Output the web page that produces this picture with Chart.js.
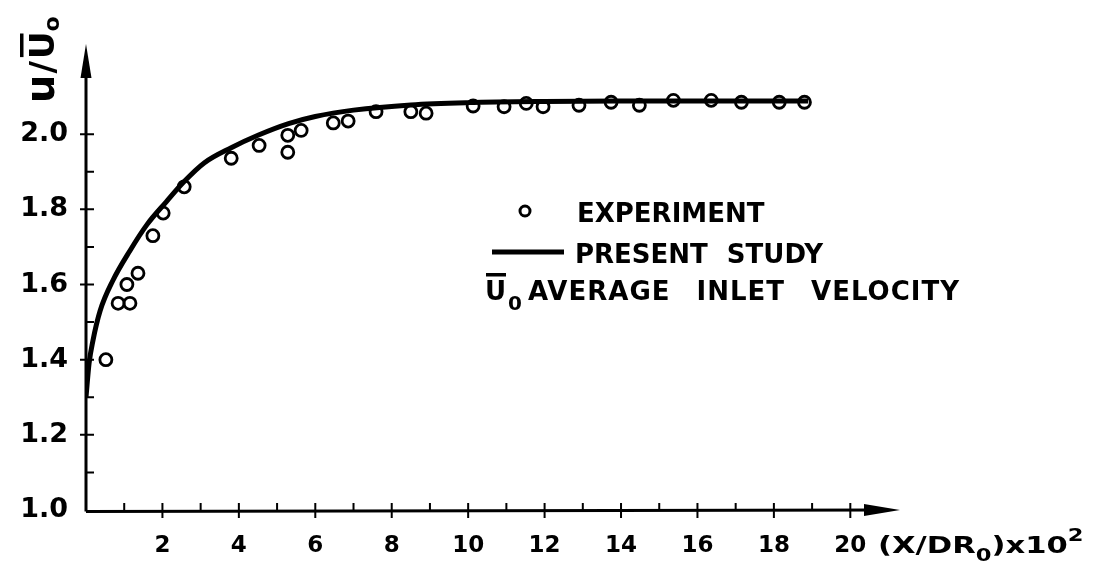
<!DOCTYPE html>
<html>
<head>
<meta charset="utf-8">
<script src="https://cdn.jsdelivr.net/npm/chart.js@4.4.0/dist/chart.umd.min.js"></script>
<style>
  html, body { margin: 0; padding: 0; background: #fff; }
</style>
</head>
<body>
<canvas id="chart" width="1104" height="567"></canvas>
<script>
// experiment, x = (X/DR0)*10^2, y = u/U0
const expX = [0.52, 0.84, 1.15, 1.07, 1.36, 1.75, 2.02, 2.57, 3.8, 4.53, 5.28, 5.28, 5.63, 6.47, 6.86, 7.59, 8.5, 8.9,
  10.13, 10.94, 11.52, 11.96, 12.9, 13.74, 14.48, 15.37, 16.36, 17.15, 18.14, 18.8];
const expY = [1.40, 1.55, 1.55, 1.60, 1.63, 1.73, 1.79, 1.86, 1.936, 1.97, 1.952, 1.997, 2.01, 2.03, 2.035, 2.06, 2.06, 2.056,
  2.075, 2.073, 2.082, 2.073, 2.077, 2.085, 2.077, 2.09, 2.09, 2.085, 2.085, 2.085];

// present study curve
const studyX = [0, 0.08, 0.18, 0.37, 0.7, 1.15, 1.6, 2.1, 2.55, 3.1, 3.8, 4.5, 5.3, 6.0, 7.0, 8.5, 10, 12, 14, 16, 18.9];
const studyY = [1.30, 1.39, 1.45, 1.53, 1.61, 1.69, 1.76, 1.82, 1.872, 1.924, 1.964, 1.997, 2.028, 2.047, 2.064, 2.078, 2.084, 2.087, 2.088, 2.088, 2.088];

// ticks
const xTicks = [0, 1, 2, 3, 4, 5, 6, 7, 8, 9, 10, 11, 12, 13, 14, 15, 16, 17, 18, 19, 20];
const xTickLabels = ['', '', '2', '', '4', '', '6', '', '8', '', '10', '', '12', '', '14', '', '16', '', '18', '', '20'];
const yTicks = [1.0, 1.1, 1.2, 1.3, 1.4, 1.5, 1.6, 1.7, 1.8, 1.9, 2.0];
const yTickLabels = ['1.0', '', '1.2', '', '1.4', '', '1.6', '', '1.8', '', '2.0'];

const FONT = '"DejaVu Sans", "Liberation Sans", sans-serif';

const axisDecor = {
  id: 'axisDecor',
  beforeDatasetsDraw(chart) {
    const { ctx, scales: { x, y } } = chart;
    const x0 = x.getPixelForValue(0), y0 = y.getPixelForValue(1.0);
    const xEnd = x.getPixelForValue(x.max), yEnd = y.getPixelForValue(y.max);
    ctx.save();
    ctx.strokeStyle = '#000';
    ctx.fillStyle = '#000';
    ctx.lineWidth = 3;
    ctx.beginPath();
    ctx.moveTo(x0, y0 + 1.5); ctx.lineTo(xEnd - 20, y0);
    ctx.moveTo(x0, y0 + 1.5); ctx.lineTo(x0, yEnd + 20);
    ctx.stroke();

    // arrow heads
    ctx.beginPath();
    ctx.moveTo(xEnd, y0);
    ctx.lineTo(xEnd - 36, y0 - 6);
    ctx.lineTo(xEnd - 36, y0 + 6);
    ctx.closePath();
    ctx.fill();
    ctx.beginPath();
    ctx.moveTo(x0, yEnd);
    ctx.lineTo(x0 - 5.5, yEnd + 34);
    ctx.lineTo(x0 + 5.5, yEnd + 34);
    ctx.closePath();
    ctx.fill();

    // tick marks
    ctx.lineWidth = 2;
    ctx.beginPath();
    xTicks.forEach((v, i) => {
      if (v === 0) return;
      const px = x.getPixelForValue(v);
      if (i % 2 === 0) { ctx.moveTo(px, y0 - 7); ctx.lineTo(px, y0 + 8); }
      else { ctx.moveTo(px, y0 - 7); ctx.lineTo(px, y0); }
    });
    yTicks.forEach((v, i) => {
      if (i === 0) return;
      const py = y.getPixelForValue(v);
      if (i % 2 === 0) { ctx.moveTo(x0 - 6, py); ctx.lineTo(x0 + 8, py); }
      else { ctx.moveTo(x0, py); ctx.lineTo(x0 + 8, py); }
    });
    ctx.stroke();
    ctx.restore();
  },
  afterDraw(chart) {
    const { ctx } = chart;
    ctx.save();
    ctx.fillStyle = '#000';
    ctx.strokeStyle = '#000';
    ctx.textBaseline = 'alphabetic';
    ctx.textAlign = 'left';

    // y axis title u/U0 (rotated)
    ctx.save();
    ctx.translate(54, 103);
    ctx.rotate(-Math.PI / 2);
    let cx = 0;
    ctx.font = 'bold 40px ' + FONT;
    ctx.fillText('u', cx, 0);
    cx += ctx.measureText('u').width + 1;
    ctx.font = 'bold 34px ' + FONT;
    ctx.fillText('/', cx, 0);
    cx += ctx.measureText('/').width + 2;
    ctx.fillText('U', cx, 0);
    const uw = ctx.measureText('U').width;
    ctx.fillRect(cx + 2, -34, uw - 4, 3.5);
    cx += uw;
    ctx.font = 'bold 22px ' + FONT;
    ctx.fillText('o', cx, 5);
    ctx.restore();

    // x axis title (X/DR0)x10^2, lettering is wide so stretch it
    ctx.save();
    ctx.translate(878, 553);
    ctx.scale(1.33, 1);
    let tx = 0;
    ctx.font = 'bold 23px ' + FONT;
    ctx.fillText('(X/DR', tx, 0);
    tx += ctx.measureText('(X/DR').width;
    ctx.font = 'bold 17px ' + FONT;
    ctx.fillText('0', tx, 8);
    tx += ctx.measureText('0').width;
    ctx.font = 'bold 23px ' + FONT;
    ctx.fillText(')x10', tx, 0);
    tx += ctx.measureText(')x10').width;
    ctx.font = 'bold 17px ' + FONT;
    ctx.fillText('2', tx, -12);
    ctx.restore();

    // legend
    ctx.font = 'bold 26px ' + FONT;
    ctx.lineWidth = 3;
    ctx.beginPath();
    ctx.arc(525, 211, 5, 0, Math.PI * 2);
    ctx.stroke();
    ctx.fillText('EXPERIMENT', 577, 222);

    ctx.lineWidth = 5;
    ctx.beginPath();
    ctx.moveTo(492, 252); ctx.lineTo(564, 252);
    ctx.stroke();
    if ('wordSpacing' in ctx) ctx.wordSpacing = '10px';
    ctx.fillText('PRESENT STUDY', 575, 263);

    ctx.fillText('U', 485, 300);
    ctx.fillRect(486, 273, 20, 3.5);
    ctx.font = 'bold 20px ' + FONT;
    ctx.fillText('0', 508, 310);
    ctx.font = 'bold 26px ' + FONT;
    if ('letterSpacing' in ctx) ctx.letterSpacing = '1px';
    if ('wordSpacing' in ctx) ctx.wordSpacing = '16px';
    ctx.fillText('AVERAGE INLET VELOCITY', 528, 300);
    ctx.restore();
  }
};

new Chart(document.getElementById('chart'), {
  type: 'scatter',
  data: {
    datasets: [
      {
        label: 'EXPERIMENT',
        data: expX.map((v, i) => ({ x: v, y: expY[i] })),
        pointStyle: 'circle',
        pointRadius: 6,
        pointBorderWidth: 2.8,
        pointBorderColor: '#000',
        pointBackgroundColor: 'rgba(0,0,0,0)',
        showLine: false,
        order: 1
      },
      {
        label: 'PRESENT STUDY',
        data: studyX.map((v, i) => ({ x: v, y: studyY[i] })),
        showLine: true,
        borderColor: '#000',
        borderWidth: 5,
        pointRadius: 0,
        cubicInterpolationMode: 'monotone',
        order: 2
      }
    ]
  },
  options: {
    responsive: false,
    animation: false,
    layout: { padding: { left: 0, top: 44, right: 204, bottom: 0 } },
    plugins: { legend: { display: false }, tooltip: { enabled: false } },
    scales: {
      x: {
        type: 'linear',
        min: 0,
        max: 21.3,
        afterBuildTicks: s => { s.ticks = xTicks.map(v => ({ value: v })); },
        afterFit: s => { s.height = 57; },
        grid: { display: false, drawTicks: false },
        border: { display: false },
        ticks: {
          autoSkip: false,
          maxRotation: 0,
          padding: 22,
          color: '#000',
          font: { family: FONT, size: 23, weight: 'bold' },
          callback: (v, i) => xTickLabels[i]
        }
      },
      y: {
        type: 'linear',
        min: 1.0,
        max: 2.24,
        afterBuildTicks: s => { s.ticks = yTicks.map(v => ({ value: v })); },
        afterFit: s => { s.width = 86; },
        grid: { display: false, drawTicks: false },
        border: { display: false },
        ticks: {
          autoSkip: false,
          padding: 18,
          color: '#000',
          font: { family: FONT, size: 27, weight: 'bold' },
          callback: (v, i) => yTickLabels[i]
        }
      }
    }
  },
  plugins: [axisDecor]
});
</script>
</body>
</html>
